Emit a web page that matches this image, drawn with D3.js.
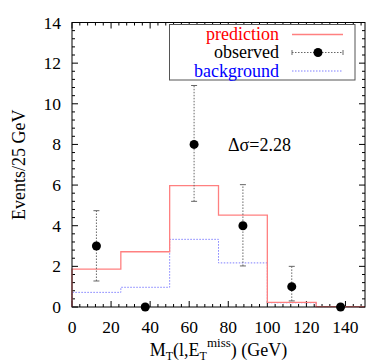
<!DOCTYPE html>
<html>
<head>
<meta charset="utf-8">
<script src="https://cdn.jsdelivr.net/npm/d3@7"></script>
<style>
  body { margin: 0; background: #fff; }
</style>
</head>
<body>
<div id="chart"></div>
<script>
// bin edges (GeV) and contents
const binEdges = [0, 25, 50, 75, 100, 125, 150];
const prediction = [1.86, 2.72, 5.97, 4.52, 0.23, 0.02];
const background = [0.72, 0.97, 3.33, 2.17, 0.21, 0.02];

// observed points with error range
const obsX = [12.5, 37.5, 62.5, 87.5, 112.5, 137.5];
const obsY = [3, 0, 8, 4, 1, 0];
const obsLo = [1.28, null, 5.2, 2.02, 0.3, null];
const obsHi = [4.74, null, 10.9, 6.02, 2.0, null];

const xTicks = [0, 20, 40, 60, 80, 100, 120, 140];
const yTicks = [0, 2, 4, 6, 8, 10, 12, 14];

const width = 374, height = 363;
const margin = {top: 22.5, right: 9, bottom: 56, left: 72};

const svg = d3.select("#chart").append("svg")
    .attr("width", width)
    .attr("height", height)
    .attr("font-family", "Liberation Serif");

const x = d3.scaleLinear().domain([0, 150]).range([margin.left, width - margin.right]);
const y = d3.scaleLinear().domain([0, 14]).range([height - margin.bottom, margin.top]);

const x0 = margin.left, x1 = width - margin.right;
const y0 = height - margin.bottom, y1 = margin.top;

// ticks (inward, mirrored on all sides)
const ticks = svg.append("g").attr("stroke", "#000").attr("stroke-width", 1);
d3.range(0, 150.01, 4).forEach(v => {
    const len = v % 20 === 0 ? 6 : 3;
    ticks.append("line").attr("x1", x(v)).attr("x2", x(v)).attr("y1", y0).attr("y2", y0 - len);
    ticks.append("line").attr("x1", x(v)).attr("x2", x(v)).attr("y1", y1).attr("y2", y1 + len);
});
d3.range(0, 14.01, 0.4).forEach(v => {
    const major = Math.abs(v / 2 - Math.round(v / 2)) < 1e-6;
    const len = major ? 6 : 3;
    ticks.append("line").attr("x1", x0).attr("x2", x0 + len).attr("y1", y(v)).attr("y2", y(v));
    ticks.append("line").attr("x1", x1).attr("x2", x1 - len).attr("y1", y(v)).attr("y2", y(v));
});

// tick labels
svg.append("g").selectAll("text").data(xTicks).join("text")
    .attr("x", d => x(d)).attr("y", y0 + 26)
    .attr("text-anchor", "middle").attr("font-size", 17.5)
    .text(d => d);
svg.append("g").selectAll("text").data(yTicks).join("text")
    .attr("x", x0 - 11).attr("y", d => y(d) + 6)
    .attr("text-anchor", "end").attr("font-size", 17.5)
    .text(d => d);

// histograms as steps
function stepPath(vals) {
    const pts = [[binEdges[0], 0]];
    vals.forEach((v, i) => {
        pts.push([binEdges[i], v]);
        pts.push([binEdges[i + 1], v]);
    });
    return d3.line().x(d => x(d[0])).y(d => y(d[1]))(pts);
}

svg.append("path")
    .attr("d", stepPath(background))
    .attr("fill", "none")
    .attr("stroke", "#7f7fff")
    .attr("stroke-width", 1)
    .attr("stroke-dasharray", "1.5,1.5");

svg.append("path")
    .attr("d", stepPath(prediction))
    .attr("fill", "none")
    .attr("stroke", "#ff8080")
    .attr("stroke-width", 1.3);

// observed error bars
const obs = obsX.map((v, i) => ({x: v, y: obsY[i], lo: obsLo[i], hi: obsHi[i]}));
const eb = svg.append("g").attr("stroke", "#666").attr("stroke-width", 1);
obs.filter(d => d.lo !== null).forEach(d => {
    eb.append("line").attr("x1", x(d.x)).attr("x2", x(d.x))
        .attr("y1", y(d.lo)).attr("y2", y(d.hi))
        .attr("stroke-dasharray", "1.5,1.5");
    [d.lo, d.hi].forEach(v => {
        eb.append("line").attr("x1", x(d.x) - 3).attr("x2", x(d.x) + 3)
            .attr("y1", y(v)).attr("y2", y(v));
    });
});

// frame
svg.append("rect")
    .attr("x", x0).attr("y", y1)
    .attr("width", x1 - x0).attr("height", y0 - y1)
    .attr("fill", "none").attr("stroke", "#000").attr("stroke-width", 1);

svg.append("g").selectAll("circle").data(obs).join("circle")
    .attr("cx", d => x(d.x)).attr("cy", d => y(d.y))
    .attr("r", 4.5).attr("fill", "#000");

// legend
const lg = svg.append("g");
lg.append("rect")
    .attr("x", 169.5).attr("y", 24.5).attr("width", 185.5).attr("height", 55.5)
    .attr("fill", "#fff").attr("stroke", "#555").attr("stroke-width", 1);
const legendRows = [
    {label: "prediction", color: "#ff0000", y: 34.5},
    {label: "observed", color: "#000", y: 52.5},
    {label: "background", color: "#0000ff", y: 71}
];
lg.selectAll("text").data(legendRows).join("text")
    .attr("x", 279).attr("y", d => d.y + 5.5)
    .attr("text-anchor", "end").attr("font-size", 18)
    .attr("fill", d => d.color)
    .text(d => d.label);
lg.append("line").attr("x1", 292).attr("x2", 343).attr("y1", 34.5).attr("y2", 34.5)
    .attr("stroke", "#ff8080").attr("stroke-width", 1.3);
lg.append("line").attr("x1", 292).attr("x2", 343).attr("y1", 71).attr("y2", 71)
    .attr("stroke", "#7f7fff").attr("stroke-dasharray", "1.5,1.5");
lg.append("line").attr("x1", 292).attr("x2", 343).attr("y1", 52.5).attr("y2", 52.5)
    .attr("stroke", "#666").attr("stroke-dasharray", "1.5,1.5");
[292, 343].forEach(px => {
    lg.append("line").attr("x1", px).attr("x2", px).attr("y1", 50).attr("y2", 55)
        .attr("stroke", "#666");
});
lg.append("circle").attr("cx", 318).attr("cy", 52.5).attr("r", 4.5).attr("fill", "#000");

// annotation
svg.append("text")
    .attr("x", 228).attr("y", 151)
    .attr("font-size", 18)
    .text("Δσ=2.28");

// axis titles
svg.append("text")
    .attr("transform", `translate(25,${(y0 + y1) / 2}) rotate(-90)`)
    .attr("text-anchor", "middle").attr("font-size", 18)
    .text("Events/25 GeV");

const xt = svg.append("text")
    .attr("x", (x0 + x1) / 2).attr("y", 356)
    .attr("text-anchor", "middle").attr("font-size", 18);
xt.append("tspan").text("M");
xt.append("tspan").attr("font-size", 12).attr("dy", 4).text("T");
xt.append("tspan").attr("dy", -4).text("(l,E");
xt.append("tspan").attr("font-size", 12).attr("dy", 4).text("T");
xt.append("tspan").attr("font-size", 13).attr("dy", -13).text("miss");
xt.append("tspan").attr("dy", 9).text(") (GeV)");
</script>
</body>
</html>
